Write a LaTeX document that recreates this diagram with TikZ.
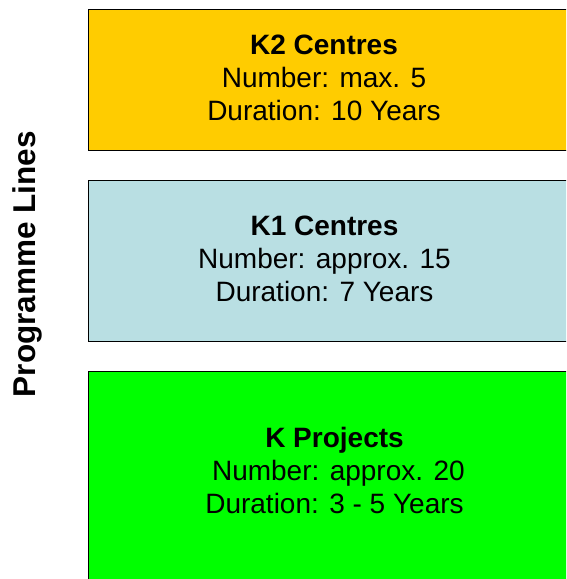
\documentclass[tikz,border=0pt]{standalone}
\usepackage{fontspec}
\setmainfont{Liberation Sans}
\usepackage{xcolor}
\usetikzlibrary{positioning}
\definecolor{centreyellow}{HTML}{FFCC00}
\definecolor{centreblue}{HTML}{B9DFE3}
\definecolor{projectgreen}{HTML}{00FF00}
\tikzset{
        linebox/.style={draw=black, line width=1pt, anchor=north west, inner sep=0pt, minimum width=500pt},
        linetext/.style={align=center, inner sep=0pt, font=\fontsize{28}{33}\selectfont}
}

\begin{document}
\begin{tikzpicture}[x=1pt, y=-1pt]
        \useasboundingbox (0,0) rectangle (566,579);
        \clip (0,0) rectangle (566,579);

        \node[linebox, fill=centreyellow, minimum height=141pt] (k2box) at (88,9) {};
        \node[linebox, fill=centreblue, minimum height=161pt] (k1box) at (88,180) {};
        \node[linebox, fill=projectgreen, minimum height=230pt] (kbox) at (88,371) {};

        \node[linetext] (k2text) at (324,78) {\textbf{K2 Centres}\\Number: max. 5\\Duration: 10 Years};
        \node[linetext] (k1text) at (324.5,259) {\textbf{K1 Centres}\\Number: approx. 15\\Duration: 7 Years};
        \node[linetext] (ktext) at (334.5,470) {\textbf{K Projects}\\\mbox{}\ Number: approx. 20\\Duration: 3 - 5 Years};

        \node[rotate=90, inner sep=0pt, font=\bfseries\fontsize{31.5}{36}\selectfont] (lineslabel) at (27,264) {Programme Lines};
\end{tikzpicture}
\end{document}
